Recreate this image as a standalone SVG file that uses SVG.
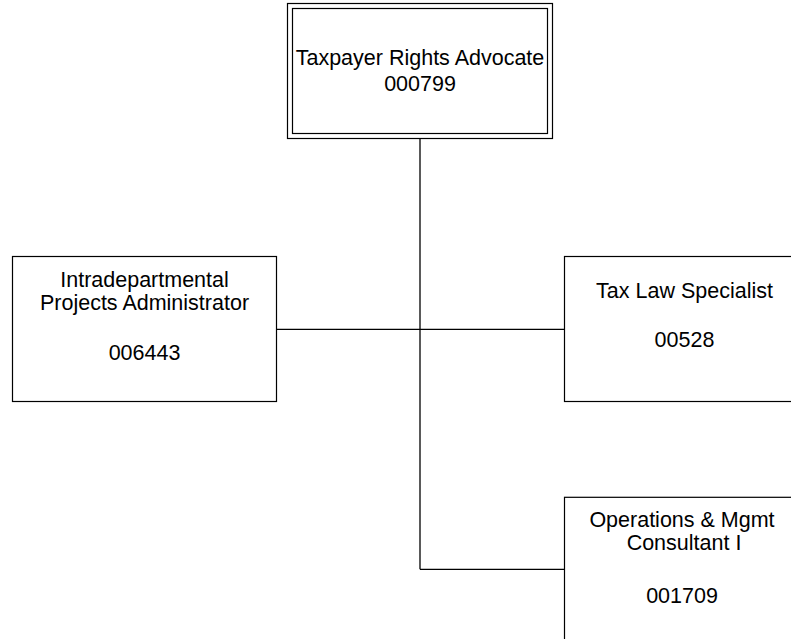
<svg xmlns="http://www.w3.org/2000/svg" width="791" height="639" viewBox="0 0 791 639">
  <style>
    .box { fill: #ffffff; stroke: #000000; stroke-width: 1.2; }
    .conn { fill: none; stroke: #000000; stroke-width: 1.3; }
    text { font-family: "Liberation Sans", Arial, sans-serif; font-size: 21.5px; fill: #000000; text-anchor: middle; }
  </style>
  <rect width="791" height="639" fill="#ffffff"/>

  <!-- reporting lines -->
  <g id="connectors">
    <line class="conn" x1="420" y1="138.5" x2="420" y2="569.3"/>
    <line class="conn" x1="276.5" y1="329.3" x2="564.5" y2="329.3"/>
    <line class="conn" x1="420" y1="569.3" x2="564.5" y2="569.3"/>
  </g>

  <!-- head position, double border -->
  <g id="node-000799">
    <rect class="box" x="287.5" y="3.5" width="265" height="135"/>
    <rect class="box" x="292.5" y="8.5" width="255" height="125"/>
    <text x="420" y="65">Taxpayer Rights Advocate</text>
    <text x="420" y="90.5">000799</text>
  </g>

  <g id="node-006443">
    <rect class="box" x="12.5" y="256.5" width="264" height="145"/>
    <text x="144.5" y="286.7">Intradepartmental</text>
    <text x="144.5" y="310">Projects Administrator</text>
    <text x="144.5" y="360">006443</text>
  </g>

  <g id="node-00528">
    <rect class="box" x="564.5" y="256.5" width="240" height="145"/>
    <text x="684.5" y="298.3">Tax Law Specialist</text>
    <text x="684.5" y="347.3">00528</text>
  </g>

  <g id="node-001709">
    <rect class="box" x="564.5" y="497.3" width="240" height="145"/>
    <text x="682" y="526.7">Operations &amp; Mgmt</text>
    <text x="684" y="550">Consultant I</text>
    <text x="682" y="602.7">001709</text>
  </g>
</svg>
